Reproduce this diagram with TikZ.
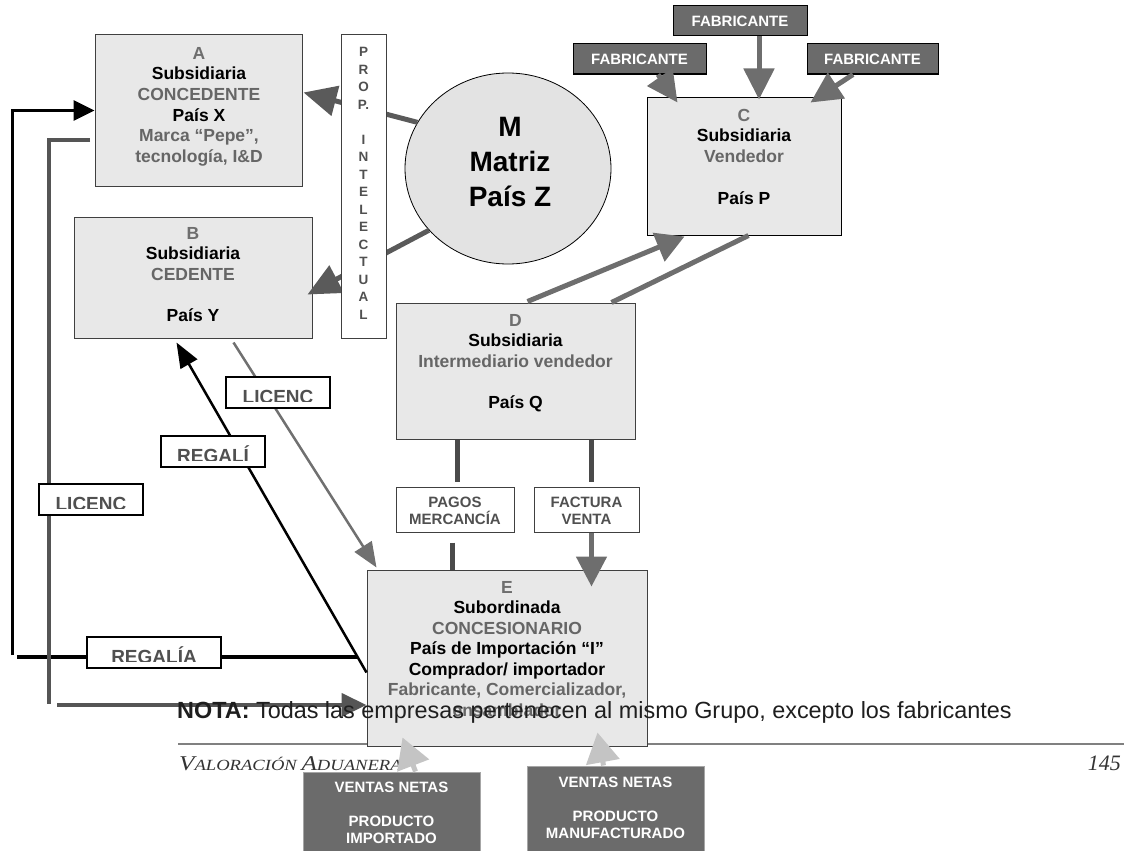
\documentclass[tikz,border=0pt]{standalone}
\usepackage{fontspec}
\usepackage{graphicx}
\setmainfont{Liberation Sans}
\newfontfamily\footserif{Liberation Serif}
\usetikzlibrary{arrows.meta,calc,shapes.geometric}
\newcommand{\myfs}[2]{\fontsize{#1}{#2}\selectfont}
\definecolor{boxfill}{HTML}{E8E8E8}
\definecolor{boxline}{HTML}{404040}
\definecolor{circfill}{HTML}{E3E3E3}
\definecolor{fabfill}{HTML}{6B6B6B}
\definecolor{hd}{HTML}{6E6E6E}
\definecolor{sub}{HTML}{666666}
\definecolor{labtxt}{HTML}{505050}
\definecolor{lnM}{HTML}{5A5A5A}
\definecolor{lnC}{HTML}{6E6E6E}
\definecolor{lnD}{HTML}{4A4A4A}
\definecolor{lnG}{HTML}{555555}
\definecolor{lnL}{HTML}{707070}
\definecolor{venarrc}{HTML}{C4C4C4}
\definecolor{footc}{HTML}{333333}
\definecolor{notac}{HTML}{1E1E1E}
\tikzset{
  box/.style={rectangle, draw=boxline, line width=1pt, fill=boxfill, inner sep=0pt},
  btxt/.style={align=center, inner sep=0pt, anchor=north, font=\bfseries\myfs{17.5}{20.7}},
  fab/.style={rectangle, draw=black, line width=1pt, fill=fabfill, text=white, inner sep=0pt, font=\bfseries\myfs{15}{17}},
  smallbox/.style={rectangle, draw=boxline, line width=1pt, fill=white, inner sep=0pt},
  smalltxt/.style={align=center, inner sep=0pt, anchor=north, text=labtxt, font=\bfseries\myfs{15}{17}},
  lbl/.style={rectangle, draw=black, line width=1.5pt, fill=white, inner sep=0pt, minimum height=31pt},
  lbltxt/.style={inner sep=0pt, anchor=base, text=labtxt, font=\bfseries\myfs{19}{19}},
  circarr/.style={draw=lnM, line width=5pt, -{Triangle[length=33pt,width=30pt]}},
  fabarr/.style={draw=lnC, line width=5pt, -{Triangle[length=31pt,width=30pt]}},
  cdarr/.style={draw=lnC, line width=5pt, -{Triangle[length=28pt,width=30pt]}},
  cdline/.style={draw=lnC, line width=5pt},
  dpline/.style={draw=lnD, line width=5.5pt},
  factarr/.style={draw=lnC, line width=5pt, -{Triangle[length=30pt,width=30pt]}},
  licarr/.style={draw=lnL, line width=2.5pt, -{Triangle[length=25pt,width=20pt]}},
  regarr/.style={draw=black, line width=2.5pt, -{Triangle[length=25pt,width=19pt]}},
  blkline/.style={draw=black, line width=4pt},
  blkarr/.style={draw=black, line width=3pt, -{Triangle[length=21pt,width=20pt]}},
  grayline/.style={draw=lnG, line width=4.3pt},
  grayarr/.style={draw=lnG, line width=4.3pt, -{Triangle[length=25pt,width=23pt]}},
  venbox/.style={rectangle, draw=gray!70, line width=1pt, fill=fabfill, inner sep=0pt},
  ventxt/.style={align=center, inner sep=0pt, anchor=north, text=white, font=\bfseries\myfs{15}{17}},
  venarr/.style={draw=venarrc, line width=5pt, -{Triangle[length=30pt,width=33pt]}},
  proptxt/.style={align=center, inner sep=0pt, anchor=north, text=labtxt, font=\bfseries\myfs{13.5}{17.5}}
}
\begin{document}
\begin{tikzpicture}[x=1pt,y=-1pt]
\useasboundingbox (0,0) rectangle (1124,851);

% footer
\coordinate (fl1) at (178,744);
\coordinate (fl2) at (1124,744);
\draw[draw=gray, line width=2pt] (fl1) -- (fl2);
\node[anchor=base west, inner sep=0pt, text=footc] (val) at (179,770)
  {\scalebox{1.2}[1]{\footserif\itshape\myfs{21}{21}V\myfs{15.5}{15.5}ALORACIÓN \myfs{21}{21}A\myfs{15.5}{15.5}DUANERA}};
\node[anchor=base east, inner sep=0pt, text=footc] (pg) at (1121,770)
  {\footserif\itshape\myfs{22}{22}145};

% main boxes
\node[box, minimum width=207pt, minimum height=151pt] (A) at (198.5,110.5) {};
\node[box, minimum width=238pt, minimum height=121pt] (B) at (193,277.5) {};
\node[box, draw=black, minimum width=194pt, minimum height=138pt] (C) at (744,166) {};
\node[box, minimum width=239pt, minimum height=136pt] (D) at (515.5,371) {};
\node[box, minimum width=280pt, minimum height=176pt] (E) at (507,658) {};
\node[ellipse, draw=black, line width=0.8pt, fill=circfill, minimum width=206pt, minimum height=191pt, inner sep=0pt] (M) at (508,168.5) {};

% fabricantes
\node[fab, minimum width=134pt, minimum height=30pt] (F2) at (740,21) {FABRICANTE};
\node[fab, minimum width=133pt, minimum height=30pt] (F1) at (639.5,59) {FABRICANTE};
\node[fab, minimum width=131pt, minimum height=30pt] (F3) at (872.5,59) {FABRICANTE};

% small boxes
\node[smallbox, minimum width=118pt, minimum height=45pt] (P) at (455,509.5) {};
\node[smallbox, minimum width=105pt, minimum height=45pt] (FV) at (586.5,509.5) {};
\node[smalltxt] (Pt) at (455,496.6) {PAGOS\\MERCANCÍA};
\node[smalltxt] (FVt) at (586.5,496.6) {FACTURA\\VENTA};

% box texts
\node[btxt] (At) at (199,46.8) {\textcolor{hd}{A}\\Subsidiaria\\\textcolor{sub}{CONCEDENTE}\\País X\\\textcolor{sub}{Marca “Pepe”,}\\\textcolor{sub}{tecnología, I\&D}};
\node[btxt] (Bt) at (193,226.8) {\textcolor{hd}{B}\\Subsidiaria\\\textcolor{sub}{CEDENTE}\\[20.7pt]País Y};
\node[btxt] (Ct) at (744,108.8) {\textcolor{hd}{C}\\Subsidiaria\\\textcolor{sub}{Vendedor}\\[20.7pt]País P};
\node[btxt] (Dt) at (515.5,313.8) {\textcolor{hd}{D}\\Subsidiaria\\\textcolor{sub}{Intermediario vendedor}\\[20.7pt]País Q};
\node[btxt, font=\bfseries\myfs{17.5}{20.5}] (Et) at (507,580.8) {\textcolor{hd}{E}\\Subordinada\\\textcolor{sub}{CONCESIONARIO}\\País de Importación “I”\\Comprador/ importador\\\textcolor{sub}{Fabricante, Comercializador,}\\\textcolor{sub}{ensamblador}};
\node[align=center, inner sep=0pt, anchor=north, font=\bfseries\myfs{28}{35}] (Mt) at (510,117) {M\\Matriz\\País Z};

% connectors from the matrix
\draw[circarr] (M.153) -- ($(A.north east)+(1,58)$);
\draw[circarr] (M.218) -- ($(B.north east)+(-5,78)$);

% property box (over the lines)
\node[rectangle, draw=boxline, line width=1pt, fill=white, minimum width=45pt, minimum height=303pt, inner sep=0pt] (PI) at (363.5,186.5) {};
\node[proptxt] (PIt) at (363.5,47.1) {P\\R\\O\\P.\\[17.5pt]I\\N\\T\\E\\L\\E\\C\\T\\U\\A\\L};

% fabricantes to C
\draw[fabarr] ($(F2.south)+(19,0)$) -- ($(C.north)+(15,3)$);
\draw[fabarr] ($(F1.south)+(18.5,0)$) -- ($(C.north west)+(31,6)$);
\draw[fabarr] ($(F3.south)+(-19.5,0)$) -- ($(C.north east)+(-31,6)$);

% C - D
\draw[cdarr] ($(D.north west)+(132,-1)$) -- ($(C.south west)+(38,1)$);
\draw[cdline] ($(D.north west)+(216,0)$) -- ($(C.south west)+(102,0)$);

% D - E
\draw[dpline] ($(D.south west)+(62,0)$) -- ($(P.north west)+(62,-5)$);
\draw[dpline] ($(P.south west)+(57,10)$) -- ($(E.north west)+(86,0)$);
\draw[dpline] ($(D.south west)+(196,0)$) -- ($(FV.north west)+(58,-5)$);
\draw[factarr] ($(FV.south west)+(58,0)$) -- ($(E.north west)+(225,17)$);

% left side connectors
\draw[licarr] ($(B.south west)+(160,4)$) -- ($(E.north west)+(10,-2)$);
\draw[regarr] ($(E.north west)+(0,103)$) -- ($(B.south west)+(103,4)$);
\coordinate (rg1) at (357,657);
\coordinate (rg2) at (17,657);
\draw[blkline] (rg1) -- (rg2);
\coordinate (rv) at (12,655);
\draw[blkarr] (rv) |- (A.west);
\coordinate (gl) at (90,140);
\coordinate (gv) at (49,704);
\draw[grayline] (gl) -| (gv);
\coordinate (ga) at (57,705);
\draw[grayarr] (ga) -- (ga -| E.west);

% labels with clipped text
\node[lbl, minimum width=104pt] (L1) at (278,392.5) {};
\begin{scope}
\clip (L1.north west) rectangle ($(L1.south east)+(0,-7)$);
\node[lbltxt] (L1t) at ($(L1.south)+(0,-5)$) {LICENC};
\end{scope}
\node[lbl, minimum width=104pt] (L2) at (213,451.5) {};
\begin{scope}
\clip (L2.north west) rectangle ($(L2.south east)+(0,-7)$);
\node[lbltxt] (L2t) at ($(L2.south)+(0,-5)$) {REGALÍ};
\end{scope}
\node[lbl, minimum width=104pt] (L3) at (91,499.5) {};
\begin{scope}
\clip (L3.north west) rectangle ($(L3.south east)+(0,-7)$);
\node[lbltxt] (L3t) at ($(L3.south)+(0,-5)$) {LICENC};
\end{scope}
\node[lbl, minimum width=134pt] (L4) at (154,652.5) {};
\begin{scope}
\clip (L4.north west) rectangle ($(L4.south east)+(0,-7)$);
\node[lbltxt] (L4t) at ($(L4.south)+(0,-5)$) {REGALÍA};
\end{scope}

% note
\node[anchor=base west, inner sep=0pt, text=notac, font=\myfs{23.4}{23.4}] (nota) at (177,718)
  {\textbf{NOTA:} Todas las empresas pertenecen al mismo Grupo, excepto los fabricantes};

% ventas
\node[venbox, minimum width=177pt, minimum height=84pt] (V1) at (391.5,814) {};
\node[venbox, minimum width=177pt, minimum height=90pt] (V2) at (615.5,811) {};
\draw[venarr] ($(V1.north west)+(113,0)$) -- ($(E.south west)+(36,-9)$);
\draw[venarr] ($(V2.north west)+(77,0)$) -- ($(E.south west)+(231,-14)$);
\node[ventxt] (V1t) at (391.5,781.6) {VENTAS NETAS\\[17pt]PRODUCTO\\IMPORTADO};
\node[ventxt] (V2t) at (615.5,776.6) {VENTAS NETAS\\[17pt]PRODUCTO\\MANUFACTURADO};
\end{tikzpicture}
\end{document}
